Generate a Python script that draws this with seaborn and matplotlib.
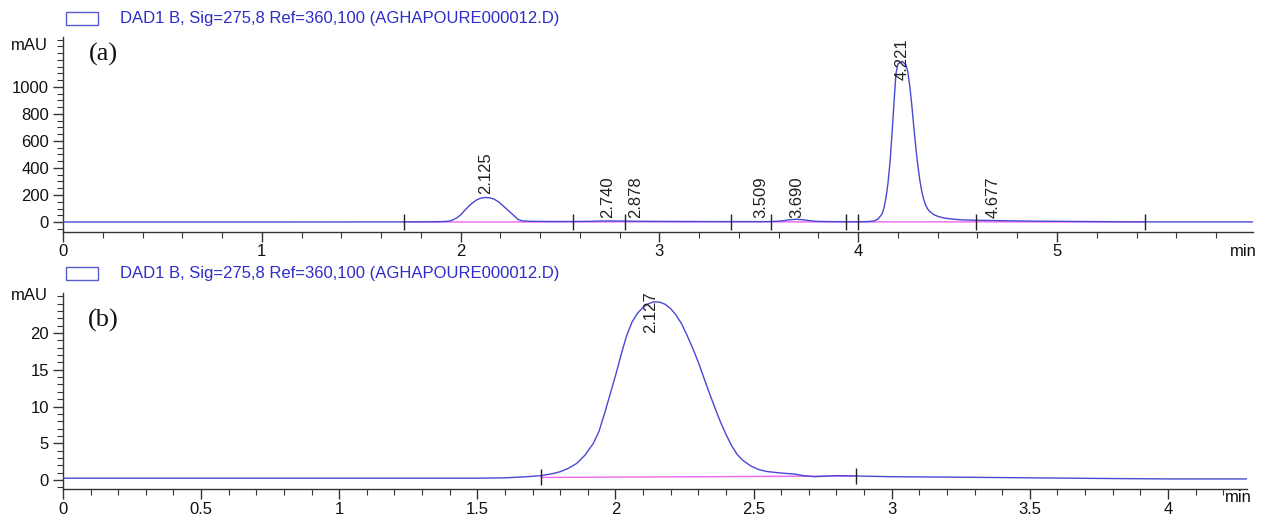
import matplotlib
matplotlib.use("Agg")
import matplotlib.pyplot as plt
import matplotlib.patches as mpatches
from matplotlib.ticker import MultipleLocator, FuncFormatter
import numpy as np
import pandas as pd
import seaborn as sns

# ---------------- data ----------------
legend_text = "DAD1 B, Sig=275,8 Ref=360,100 (AGHAPOURE000012.D)"

# panel (a): retention time (min) and signal (mAU)
time_a = [0.00, 0.50, 1.00, 1.50, 1.715, 1.85, 1.90, 1.94, 1.96, 1.98, 2.00, 2.02,
          2.04, 2.06, 2.08, 2.10, 2.125, 2.15, 2.17, 2.19, 2.21, 2.23, 2.25, 2.27,
          2.29, 2.31, 2.35, 2.45, 2.565, 2.65, 2.70, 2.74, 2.80, 2.827, 2.878, 2.95,
          3.10, 3.30, 3.358, 3.509, 3.559, 3.60, 3.63, 3.66, 3.69, 3.72, 3.75, 3.79,
          3.85, 3.94, 3.997, 4.05, 4.08, 4.10, 4.12, 4.13, 4.14, 4.15, 4.16, 4.17,
          4.18, 4.19, 4.20, 4.221, 4.24, 4.25, 4.26, 4.27, 4.28, 4.29, 4.30, 4.31,
          4.32, 4.33, 4.34, 4.35, 4.36, 4.38, 4.40, 4.43, 4.47, 4.52, 4.593, 4.677,
          4.75, 4.90, 5.10, 5.30, 5.443, 5.70, 5.986]
signal_a = [0, 0, 0, 0.5, 1, 2, 3, 6, 15, 30, 52, 85,
            115, 142, 163, 176, 182, 178, 168, 150, 125, 98, 72, 45,
            18, 8, 5, 4, 4, 5, 7, 8, 7, 6.5, 6, 5,
            4, 3, 3, 3, 3.5, 6, 11, 17, 20, 17, 11, 5,
            3, 2, 2, 3, 8, 22, 60, 105, 180, 290, 440, 650,
            880, 1100, 1170, 1190, 1165, 1110, 1000, 860, 700, 550, 420, 310,
            225, 165, 122, 95, 78, 55, 42, 30, 22, 16, 13, 11,
            9, 6, 4, 2, 1, 0.5, 0.5]
peaks_a = ["2.125", "2.740", "2.878", "3.509", "3.690", "4.221", "4.677"]
peak_rt_a = [2.125, 2.740, 2.878, 3.509, 3.690, 4.221, 4.677]
label_y_a = [210, 30, 30, 30, 30, 1050, 30]
events_a = [1.715, 2.565, 2.827, 3.358, 3.559, 3.940, 3.997, 4.593, 5.443]
baseline_a = [0, 0.5, 1, 1, 1, 0.5, 0.5, 1, 0]

# panel (b)
time_b = [0.0, 0.5, 1.0, 1.5, 1.60, 1.68, 1.73, 1.77, 1.80, 1.83, 1.86, 1.89,
          1.92, 1.94, 1.96, 1.98, 2.00, 2.02, 2.04, 2.06, 2.08, 2.10, 2.12, 2.14,
          2.16, 2.18, 2.20, 2.22, 2.24, 2.26, 2.28, 2.30, 2.32, 2.34, 2.36, 2.38,
          2.40, 2.42, 2.44, 2.46, 2.49, 2.52, 2.55, 2.60, 2.65, 2.68, 2.72, 2.80,
          2.87, 3.0, 3.2, 3.5, 3.8, 4.0, 4.286]
signal_b = [0.25, 0.25, 0.25, 0.25, 0.3, 0.45, 0.6, 0.85, 1.13, 1.6, 2.27, 3.4,
            5.0, 6.6, 9.0, 11.6, 14.2, 17.0, 19.6, 21.5, 22.7, 23.5, 24.0, 24.25,
            24.2, 23.9, 23.3, 22.4, 21.2, 19.6, 17.9, 16.0, 13.9, 11.8, 9.8, 7.9,
            6.2, 4.7, 3.5, 2.7, 1.9, 1.4, 1.15, 0.95, 0.8, 0.6, 0.45, 0.6,
            0.55, 0.45, 0.4, 0.3, 0.2, 0.15, 0.15]
peaks_b = ["2.127"]
peak_rt_b = [2.127]
label_y_b = [20.0]
events_b = [1.73, 2.87]
baseline_b = [0.35, 0.55]

# ---------------- style ----------------
sns.set_theme(style="ticks")
plt.rcParams["font.family"] = ["Liberation Sans", "DejaVu Sans"]

LINE = "#4848d4"
BASE = "#ee66ee"
TEXT_BLUE = "#2d2dcc"
AX = "#333333"
W, H = 1262, 514

fig = plt.figure(figsize=(W / 100, H / 100), dpi=100)
ax1 = fig.add_axes([63 / W, 1 - 232 / H, (1253 - 63) / W, (232 - 37) / H])
ax2 = fig.add_axes([63 / W, 1 - 489 / H, (1247 - 63) / W, (489 - 293) / H])

df_a = pd.DataFrame({"t": time_a, "y": signal_a})
df_b = pd.DataFrame({"t": time_b, "y": signal_b})


def draw(ax, df, events, base, rts, labels, ly, xlim, ylim, xmaj, xmin, ymaj, ymin, yhi):
    ax.plot(events, base, color=BASE, lw=1.0, zorder=2)
    sns.lineplot(data=df, x="t", y="y", ax=ax, color=LINE, linewidth=1.0,
                 sort=False, estimator=None, zorder=3)
    ax.plot(events, base, ls="none", marker="|", markersize=11,
            markeredgewidth=1.0, color="#222222", zorder=4)
    for rt, lab, yy in zip(rts, labels, ly):
        ax.text(rt, yy, lab, rotation=90, ha="center", va="bottom",
                fontsize=12, color="#222222", zorder=5)
    ax.set_xlim(*xlim)
    ax.set_ylim(*ylim)
    ax.set_xlabel("")
    ax.set_ylabel("")
    ax.xaxis.set_major_locator(MultipleLocator(xmaj))
    ax.xaxis.set_minor_locator(MultipleLocator(xmin))
    ax.set_yticks(np.arange(0, yhi + 0.001, ymaj))
    ax.yaxis.set_minor_locator(MultipleLocator(ymin))
    ax.xaxis.set_major_formatter(FuncFormatter(lambda v, p: "%g" % round(v, 3)))
    ax.yaxis.set_major_formatter(FuncFormatter(lambda v, p: "%g" % round(v, 3)))
    for s in ["top", "right"]:
        ax.spines[s].set_visible(False)
    for s in ["left", "bottom"]:
        ax.spines[s].set_color(AX)
        ax.spines[s].set_linewidth(1.0)
    ax.tick_params(axis="both", which="major", direction="out", length=7,
                   width=1.0, color=AX, labelsize=12, labelcolor="#111111", pad=2)
    ax.tick_params(axis="both", which="minor", direction="out", length=4,
                   width=0.8, color=AX)
    ax.tick_params(axis="y", which="major", pad=3)
    ax.set_facecolor("white")


draw(ax1, df_a, events_a, baseline_a, peak_rt_a, peaks_a, label_y_a,
     (0, 5.986), (-74, 1370), 1, 0.2, 200, 50, 1000)
draw(ax2, df_b, events_b, baseline_b, peak_rt_b, peaks_b, label_y_b,
     (0, 4.286), (-1.22, 25.44), 0.5, 0.1, 5, 1, 20)

# panel letters
ax1.text(0.034, 0.908, "(a)", transform=ax1.transAxes, ha="center", va="center",
         fontsize=19, family=["Liberation Serif", "DejaVu Serif"], color="#111111")
ax2.text(0.034, 0.862, "(b)", transform=ax2.transAxes, ha="center", va="center",
         fontsize=19, family=["Liberation Serif", "DejaVu Serif"], color="#111111")

# unit labels
for yy in (45, 296):
    fig.text(29 / W, 1 - yy / H, "mAU", ha="center", va="center", fontsize=12, color="#111111")
fig.text(1257 / W, 1 - 251 / H, "min", ha="right", va="center", fontsize=12, color="#111111")
fig.text(1252 / W, 1 - 497 / H, "min", ha="right", va="center", fontsize=12, color="#111111")

# legend headers
for ytop in (12, 267):
    fig.patches.append(mpatches.Rectangle((66 / W, 1 - (ytop + 13) / H), 32 / W, 13 / H,
                                          transform=fig.transFigure, fill=False,
                                          edgecolor="#5a5acc", linewidth=1.0))
    fig.text(120 / W, 1 - (ytop + 6.5) / H, legend_text, ha="left", va="center",
             fontsize=12, color=TEXT_BLUE)

fig.savefig("out.png", dpi=100, facecolor="white")
